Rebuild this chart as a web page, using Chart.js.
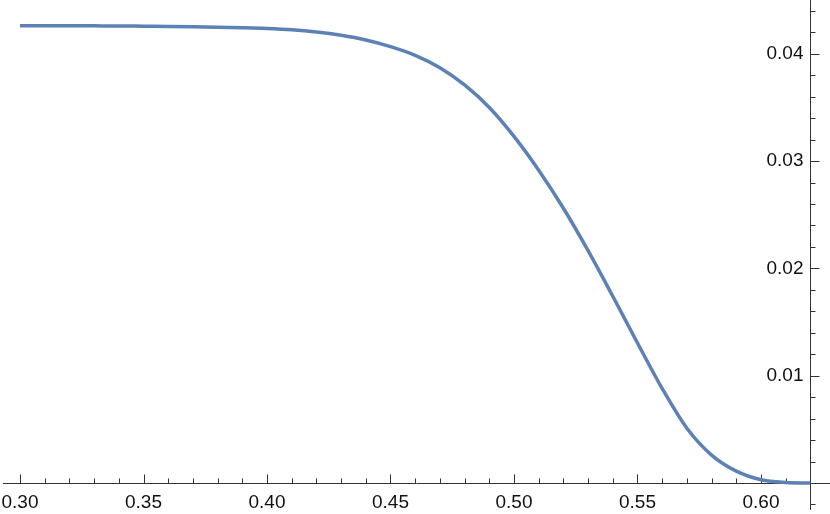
<!DOCTYPE html>
<html>
<head>
<meta charset="utf-8">
<script src="https://cdn.jsdelivr.net/npm/chart.js@4.4.1/dist/chart.umd.min.js"></script>
<style>
  html, body { margin: 0; padding: 0; background: #fff; }
  #wrap { width: 830px; height: 514px; }
</style>
</head>
<body>
<div id="wrap"><canvas id="myLineChart" width="830" height="514"></canvas></div>
<script>
// curve
const xValues = [0.30, 0.31, 0.32, 0.33, 0.34, 0.35, 0.36, 0.37, 0.38, 0.39,
                 0.40, 0.41, 0.42, 0.43, 0.44, 0.45, 0.46, 0.47, 0.48, 0.49,
                 0.50, 0.51, 0.52, 0.53, 0.54, 0.55, 0.56, 0.57, 0.58, 0.59,
                 0.60, 0.61, 0.62];
const yValues = [0.04262, 0.04262, 0.04261, 0.04260, 0.04259, 0.04257, 0.04255, 0.04252, 0.04248, 0.04243,
                 0.04236, 0.04224, 0.04203, 0.04172, 0.04128, 0.04066, 0.03985, 0.03870, 0.03710, 0.03500,
                 0.03230, 0.02915, 0.02560, 0.02165, 0.01740, 0.01305, 0.00880, 0.00510, 0.00260, 0.00110,
                 0.00030, 0.00005, 0.00000];

// ticks
const xMajorTicks = [0.30, 0.35, 0.40, 0.45, 0.50, 0.55, 0.60];
const xTickLabels = ['0.30', '0.35', '0.40', '0.45', '0.50', '0.55', '0.60'];
const xMinorTicks = [0.31, 0.32, 0.33, 0.34, 0.36, 0.37, 0.38, 0.39, 0.41, 0.42, 0.43, 0.44,
                     0.46, 0.47, 0.48, 0.49, 0.51, 0.52, 0.53, 0.54, 0.56, 0.57, 0.58, 0.59, 0.61];
const yMajorTicks = [0.01, 0.02, 0.03, 0.04];
const yTickLabels = ['0.01', '0.02', '0.03', '0.04'];
const yMinorTicks = [-0.002, 0.002, 0.004, 0.006, 0.008, 0.012, 0.014, 0.016, 0.018,
                     0.022, 0.024, 0.026, 0.028, 0.032, 0.034, 0.036, 0.038, 0.042, 0.044];

// where the axes cross and run
const yAxisAtX = 0.62;
const xAxisAtY = 0;
const xAxisFrom = 0.2931;
const yAxisDownTo = -0.0025;

const axisColor = '#333';
const labelFont = '19px "Liberation Sans", Arial, sans-serif';

// Mathematica-style crossing axes, placed through the chart's scales
const crossAxes = {
  id: 'crossAxes',
  beforeDatasetsDraw(chart) {
    const ctx = chart.ctx;
    const sx = chart.scales.x;
    const sy = chart.scales.y;
    const area = chart.chartArea;
    const px = v => Math.round(sx.getPixelForValue(v)) + 0.5;
    const py = v => Math.round(sy.getPixelForValue(v)) + 0.5;
    const y0 = py(xAxisAtY);
    const xa = px(yAxisAtX);

    ctx.save();
    ctx.strokeStyle = axisColor;
    ctx.lineWidth = 1;
    ctx.beginPath();
    // axis lines
    ctx.moveTo(sx.getPixelForValue(xAxisFrom), y0);
    ctx.lineTo(area.right, y0);
    ctx.moveTo(xa, area.top);
    ctx.lineTo(xa, sy.getPixelForValue(yAxisDownTo));
    // x ticks point up
    xMajorTicks.forEach(v => { ctx.moveTo(px(v), y0); ctx.lineTo(px(v), y0 - 9); });
    xMinorTicks.forEach(v => { ctx.moveTo(px(v), y0); ctx.lineTo(px(v), y0 - 5); });
    // y ticks point right
    yMajorTicks.forEach(v => { ctx.moveTo(xa, py(v)); ctx.lineTo(xa + 9, py(v)); });
    yMinorTicks.forEach(v => { ctx.moveTo(xa, py(v)); ctx.lineTo(xa + 5, py(v)); });
    ctx.stroke();

    ctx.fillStyle = '#111';
    ctx.font = labelFont;
    ctx.textBaseline = 'middle';
    ctx.textAlign = 'center';
    xMajorTicks.forEach((v, i) => ctx.fillText(xTickLabels[i], sx.getPixelForValue(v), y0 + 19));
    ctx.textAlign = 'right';
    yMajorTicks.forEach((v, i) => ctx.fillText(yTickLabels[i], xa - 7, sy.getPixelForValue(v)));
    ctx.restore();
  }
};

const lineData = {
  datasets: [{
    data: xValues.map((x, i) => ({x: x, y: yValues[i]})),
    borderColor: 'rgb(94, 129, 181)',
    borderWidth: 3.5,
    pointRadius: 0,
    fill: false,
    cubicInterpolationMode: 'monotone'
  }]
};

const lineConfig = {
  type: 'line',
  data: lineData,
  options: {
    responsive: false,
    animation: false,
    layout: { padding: 0 },
    plugins: {
      legend: { display: false },
      tooltip: { enabled: false }
    },
    scales: {
      x: { type: 'linear', min: 0.2919, max: 0.62794, display: false },
      y: { type: 'linear', min: -0.00289, max: 0.04501, display: false }
    }
  },
  plugins: [crossAxes]
};

const myLineChart = new Chart(document.getElementById('myLineChart'), lineConfig);
</script>
</body>
</html>
